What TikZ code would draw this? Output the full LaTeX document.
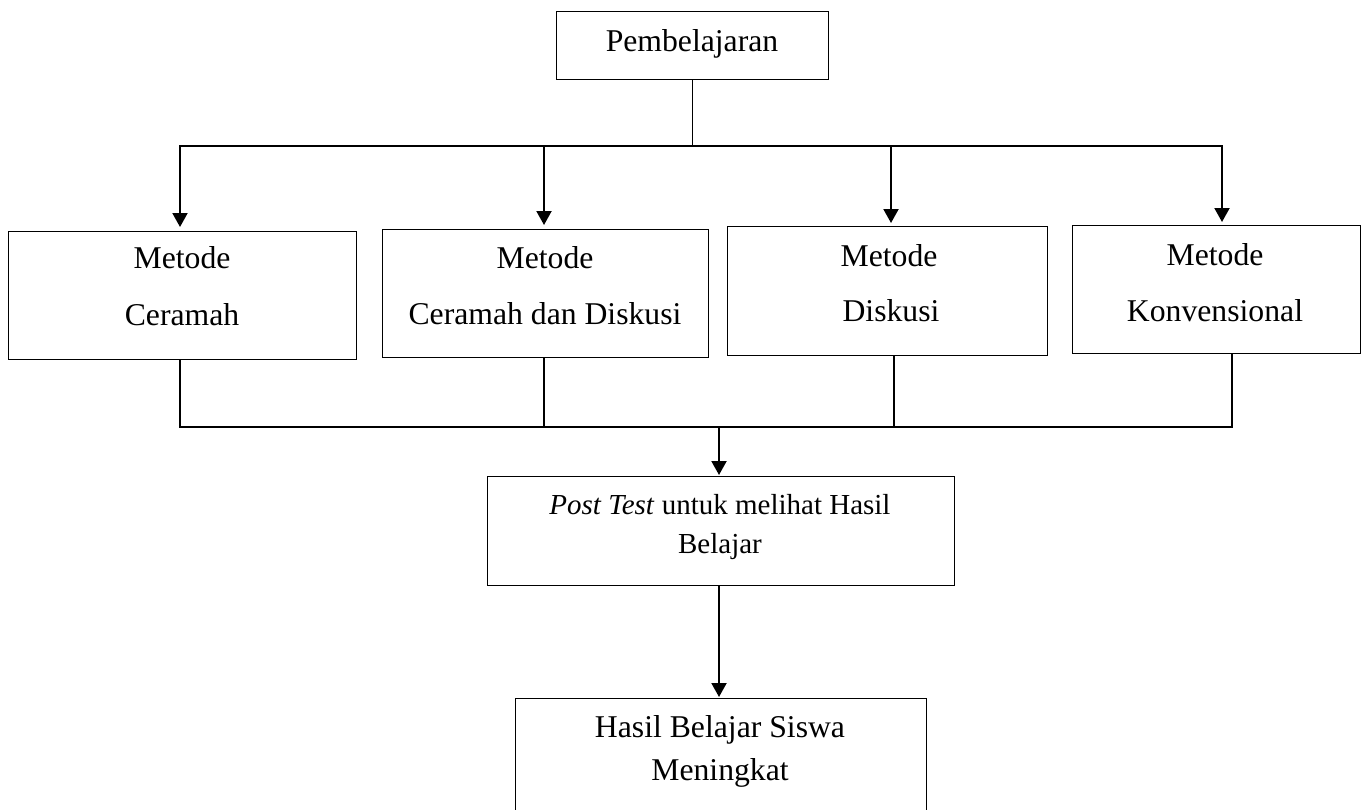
\documentclass[tikz,border=0pt]{standalone}
\usepackage{fontspec}
\setmainfont{Liberation Serif}
\usetikzlibrary{arrows.meta}
\tikzset{
  box/.style={draw=black, line width=1.3pt, inner sep=0pt, anchor=north west},
  txt/.style={inner sep=0pt, anchor=base, font=\fontsize{31.7}{38}\selectfont},
  txts/.style={inner sep=0pt, anchor=base, font=\fontsize{29}{35}\selectfont},
  link/.style={draw=black, line width=1.3pt, line cap=rect},
  arr/.style={draw=black, line width=2pt, -{Triangle[length=14pt,width=15pt]}}
}
\begin{document}
\begin{tikzpicture}[x=1pt,y=-1pt]
\useasboundingbox[fill=white] (0,0) rectangle (1365,809);
% boxes
\node[box, minimum width=272pt, minimum height=68pt] (top) at (556,11) {};
\node[box, minimum width=348pt, minimum height=128pt] (m1) at (8,231) {};
\node[box, minimum width=326pt, minimum height=128pt] (m2) at (382,229) {};
\node[box, minimum width=320pt, minimum height=129pt] (m3) at (727,226) {};
\node[box, minimum width=288pt, minimum height=128pt] (m4) at (1072,225) {};
\node[box, minimum width=467pt, minimum height=109pt] (pt) at (487,476) {};
\node[box, minimum width=411pt, minimum height=160pt] (res) at (515,698) {};
% texts
\node[txt] (ttop) at (692,51) {Pembelajaran};
\node[txt] (t1a) at (182,268) {Metode};
\node[txt] (t1b) at (182,325) {Ceramah};
\node[txt] (t2a) at (545,268) {Metode};
\node[txt] (t2b) at (545,324) {Ceramah dan Diskusi};
\node[txt] (t3a) at (889,266) {Metode};
\node[txt] (t3b) at (891,321) {Diskusi};
\node[txt] (t4a) at (1215,265) {Metode};
\node[txt] (t4b) at (1215,321) {Konvensional};
\node[txts] (tpa) at (720,514) {\textit{Post Test} untuk melihat Hasil};
\node[txts] (tpb) at (720,553) {Belajar};
\node[txt] (tra) at (720,737) {Hasil Belajar Siswa};
\node[txt] (trb) at (720,780) {Meningkat};
% split coordinates
\coordinate (s1) at (180,146);
\coordinate (s2) at (544,146);
\coordinate (s3) at (891,146);
\coordinate (s4) at (1222,146);
\coordinate (j1) at (180,427);
\coordinate (j2) at (544,427);
\coordinate (j3) at (894,427);
\coordinate (j4) at (1232,427);
\coordinate (jm) at (719,427);
\coordinate (pm) at (719,585);
% top connectors
\draw[link] (top.south) -- (top.south |- s1);
\draw[link] (s1) -- (s4);
\draw[arr, shorten >=4pt] (s1) -- (s1 |- m1.north);
\draw[arr, shorten >=4pt] (s2) -- (s2 |- m2.north);
\draw[arr, shorten >=3pt] (s3) -- (s3 |- m3.north);
\draw[arr, shorten >=3pt] (s4) -- (s4 |- m4.north);
% bottom connectors
\draw[link] (j1 |- m1.south) -- (j1) -- (j4) -- (j4 |- m4.south);
\draw[link] (j2 |- m2.south) -- (j2);
\draw[link] (j3 |- m3.south) -- (j3);
\draw[arr, shorten >=1pt] (jm) -- (jm |- pt.north);
\draw[arr, shorten >=1pt] (pm) -- (pm |- res.north);
\end{tikzpicture}
\end{document}
